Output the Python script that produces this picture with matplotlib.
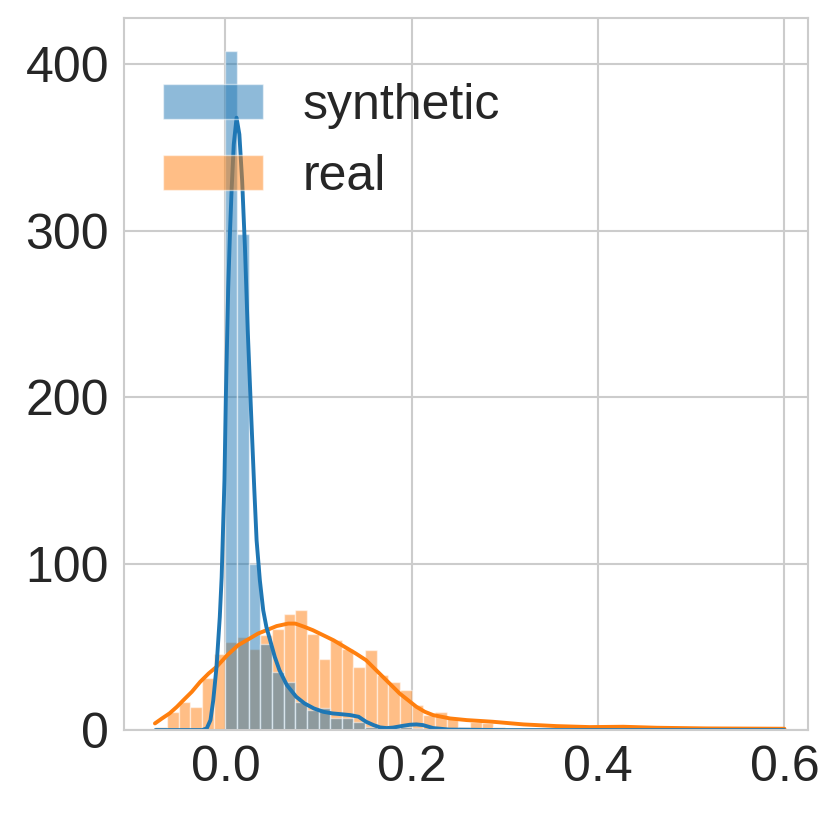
import numpy as np
import matplotlib
matplotlib.use("Agg")
import matplotlib.pyplot as plt
import seaborn as sns

# histogram bins shared by both groups
bin_start = -0.075
bin_width = 0.0125
n_bins = 54

# counts per bin
real_counts = [2, 11, 17, 14, 31, 46, 53, 56, 49, 57,
               61, 70, 72, 58, 43, 54, 49, 38, 48, 33,
               29, 24, 15, 9, 11, 7, 2, 5, 4, 2,
               1, 1, 1, 0, 1, 0, 1, 0, 0, 0,
               1, 0, 1, 1, 0, 0, 0, 0, 0, 0,
               0, 0, 0, 1]
synth_counts = [0, 0, 0, 0, 0, 0, 408, 298, 100, 52,
                35, 29, 17, 12, 13, 7, 7, 5, 2, 0,
                1, 2, 1, 0, 0, 0, 0, 0, 0, 0,
                0, 0, 0, 0, 0, 0, 0, 0, 0, 0,
                0, 0, 0, 0, 0, 0, 0, 0, 0, 0,
                0, 0, 0, 0]

# kde curves (scaled to counts)
synth_kde_x = [-0.075, -0.04, -0.025, -0.02, -0.016, -0.013, -0.0095, -0.006,
               -0.004, -0.001, 0.0005, 0.003, 0.005, 0.0067, 0.009, 0.012,
               0.015, 0.018, 0.021, 0.024, 0.028, 0.031, 0.0335, 0.037,
               0.0406, 0.044, 0.048, 0.053, 0.058, 0.066, 0.076, 0.085,
               0.095, 0.105, 0.115, 0.125, 0.134, 0.143, 0.151, 0.159, 0.166,
               0.173, 0.18, 0.19, 0.198, 0.205, 0.212, 0.223, 0.24, 0.3,
               0.4, 0.5, 0.6]
synth_kde_y = [0, 0, 0, 1, 6, 18, 38, 68,
               92, 150, 200, 265, 300, 325, 352, 368,
               358, 330, 290, 240, 185, 145, 114, 90,
               72, 62, 54, 44, 36, 27, 20, 16,
               13, 11, 10, 9.5, 9, 8, 5, 3, 1.6,
               1.2, 1.5, 2.5, 3.2, 3.4, 3, 1.2, 0.3, 0,
               0, 0, 0]

real_kde_x = [-0.0756, -0.068, -0.06, -0.052, -0.045, -0.036, -0.027, -0.018,
              -0.0095, 0.002, 0.0137, 0.026, 0.035, 0.044, 0.055, 0.0674,
              0.075, 0.085, 0.094, 0.105, 0.116, 0.128, 0.14, 0.151, 0.16,
              0.169, 0.178, 0.187, 0.196, 0.205, 0.214, 0.223, 0.232, 0.241,
              0.259, 0.287, 0.32, 0.355, 0.391, 0.427, 0.463, 0.516, 0.6]
real_kde_y = [4, 7, 10, 14, 18, 23, 29, 34,
              38, 45, 51, 55, 58, 60, 62.5, 64,
              64, 62, 60, 57, 54, 50, 46, 42, 37,
              32, 27, 22, 18, 14, 11, 9, 8, 7,
              6, 5, 3.4, 2.4, 1.8, 2, 1.4, 1, 0.8]

labels = ["synthetic", "real"]
blue = "#1f77b4"
orange = "#ff7f0e"

sns.set_style("whitegrid")
plt.rcParams['font.family'] = ['Liberation Sans', 'DejaVu Sans']

fig = plt.figure(figsize=(8.31, 8.13), dpi=100)
ax = fig.add_axes([0.149, 0.102, 0.823, 0.876])

edges = bin_start + bin_width * np.arange(n_bins)

# real drawn first so synthetic sits on top (gives the grey overlap)
h_real = ax.bar(edges, real_counts, width=bin_width, align="edge",
                color=orange, alpha=0.5, edgecolor="white", linewidth=1.0,
                label=labels[1])
h_syn = ax.bar(edges, synth_counts, width=bin_width, align="edge",
               color=blue, alpha=0.5, edgecolor="white", linewidth=1.0,
               label=labels[0])
ax.plot(real_kde_x, real_kde_y, color=orange, lw=2.8)
ax.plot(synth_kde_x, synth_kde_y, color=blue, lw=2.8)

ax.set_xlim(-0.109, 0.625)
ax.set_ylim(0, 428)
ax.set_xticks([0.0, 0.2, 0.4, 0.6])
ax.set_yticks([0, 100, 200, 300, 400])
ax.tick_params(labelsize=36, colors="#262626", pad=7)
ax.grid(True, color="#cccccc", linewidth=1.5)
ax.set_axisbelow(True)
for s in ax.spines.values():
    s.set_color("#cccccc")
    s.set_linewidth(1.5)

ax.legend(handles=[h_syn, h_real], labels=labels, loc="upper left",
          bbox_to_anchor=(-0.009, 0.972),
          fontsize=36, frameon=False, labelcolor="#262626")

fig.savefig("out.png", dpi=100)
